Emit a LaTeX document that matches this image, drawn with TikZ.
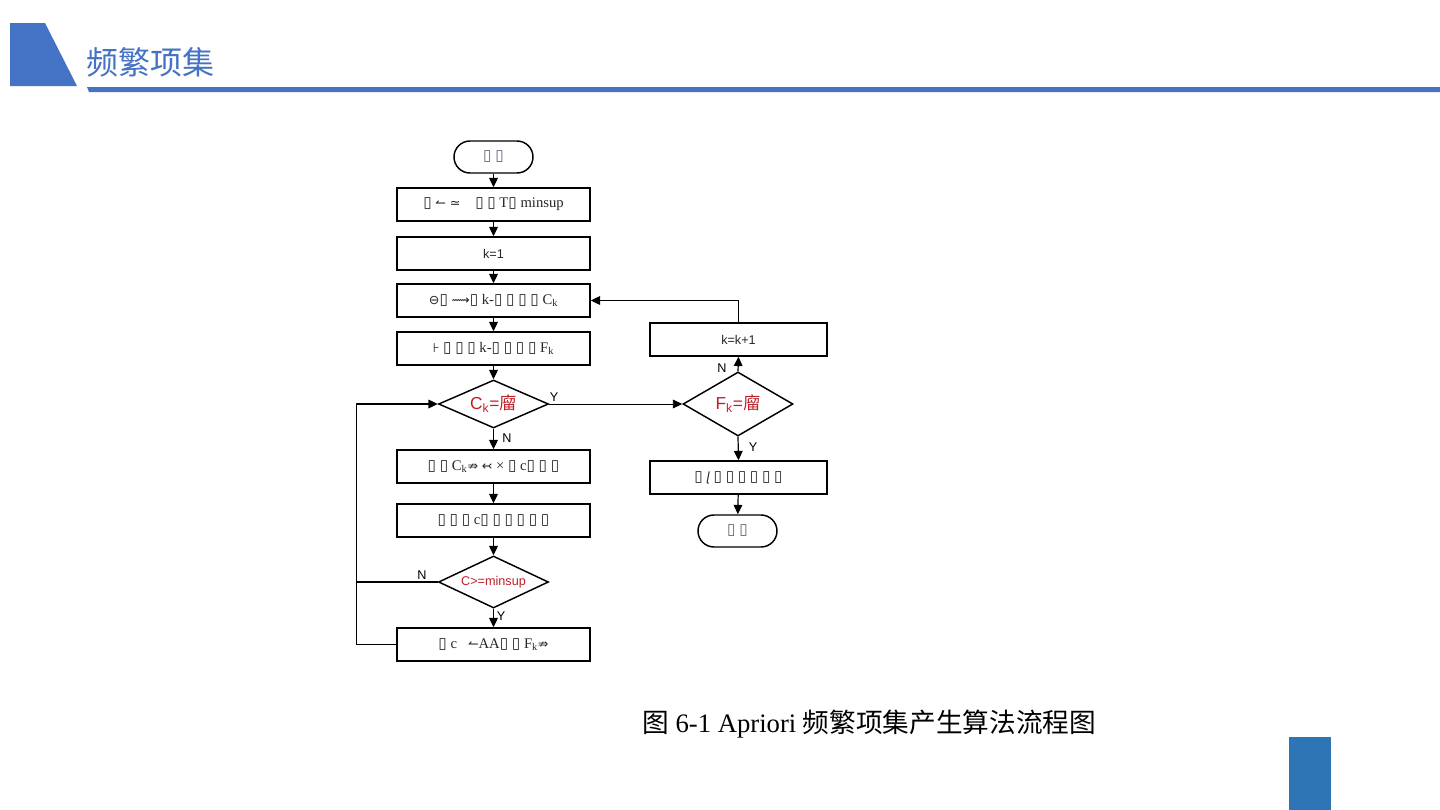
\documentclass[tikz,border=0pt]{standalone}
\usepackage{fontspec}
\setmainfont{Liberation Serif}
\setsansfont{Liberation Sans}
\newfontfamily\cjk{Noto Sans CJK SC}
\newfontfamily\symf{DejaVu Sans}
\usetikzlibrary{shapes.geometric,arrows.meta}
\definecolor{titleblue}{RGB}{68,114,196}
\definecolor{barblue}{RGB}{46,117,182}
\definecolor{redtxt}{RGB}{190,30,40}
\definecolor{startgray}{RGB}{90,100,120}
\newcommand\tf{{\symf\fontsize{11.5}{12}\selectfont ▯}}
\newcommand\sy[1]{{\symf\fontsize{9.5}{11}\selectfont #1}}
\tikzset{
  box/.style={draw, line width=1.1pt, minimum width=144.75pt, minimum height=24.75pt, inner sep=0pt, font=\fontsize{11}{12}\selectfont, text=black!85},
  rbox/.style={box, minimum width=132.75pt},
  term/.style={draw, line width=1.1pt, rounded corners=12pt, minimum width=59.25pt, minimum height=24pt, inner sep=0pt, font=\fontsize{11}{12}\selectfont, text=startgray},
  dia/.style={draw, line width=1.1pt, diamond, inner sep=0pt, minimum width=82.5pt, text=redtxt},
  arr/.style={line width=0.9pt, -{Triangle[length=7pt,width=6.5pt]}},
  lin/.style={line width=0.9pt},
  lab/.style={font=\sffamily\fontsize{9.5}{11}\selectfont, inner sep=0pt}
}
\begin{document}
\begin{tikzpicture}[x=0.75pt,y=-0.75pt]
\useasboundingbox (0,0) rectangle (1440,810);
% header
\fill[titleblue] (10,23) -- (45,23) -- (77,86) -- (10,86) -- cycle;
\fill[titleblue] (87,87) -- (1440,87) -- (1440,92) -- (89,92) -- cycle;
\node[anchor=west, inner sep=0pt, text=titleblue, font=\cjk\fontsize{24}{26}\selectfont] (title) at (86,62) {频繁项集};
\fill[barblue] (1289,737) rectangle (1331,810);
% caption
\node[anchor=west, inner sep=0pt, font=\fontsize{20}{22}\selectfont] (cap) at (642,724) {{\cjk 图} 6-1 Apriori {\cjk 频繁项集产生算法流程图}};

% flowchart nodes
\node[term] (start) at (493.5,157) {\tf\ \tf};
\node[box] (b1) at (493.5,204.5) {\tf\ \sy{↼ ≃}\ \ \ \ \tf\ \tf\ T\tf\ minsup};
\node[box, font=\sffamily\fontsize{9.5}{11}\selectfont] (b2) at (493.5,253.5) {k=1};
\node[box] (b3) at (493.5,300.5) {\sy{⊖}\tf\ \sy{⟿}\tf\ k-\tf\ \tf\ \tf\ \tf\ C\textsubscript{k}};
\node[box] (b4) at (493.5,348.5) {\sy{⊦}\ \tf\ \tf\ \tf\ k-\tf\ \tf\ \tf\ \tf\ F\textsubscript{k}};
\node[dia, aspect=2.29, minimum height=36pt, font=\sffamily\fontsize{13}{15}\selectfont] (d1) at (493.5,404) {C\textsubscript{k}={\cjk 廇}};
\node[box] (b5) at (493.5,466.5) {\tf\ \tf\ C\textsubscript{k}\sy{⇏}\ \sy{↢}\ ×\ \tf\ c\tf\ \tf\ \tf};
\node[box] (b6) at (493.5,520.5) {\tf\ \tf\ \tf\ c\tf\ \tf\ \tf\ \tf\ \tf\ \tf};
\node[dia, aspect=2.1, minimum height=39pt, font=\sffamily\fontsize{9.5}{11}\selectfont] (d2) at (493.5,582) {C>=minsup};
\node[box] (b7) at (493.5,644.5) {\tf\ c\ \ \ \sy{↼}AA\tf\ \tf\ F\textsubscript{k}\sy{⇏}};

\node[rbox, font=\sffamily\fontsize{9.5}{11}\selectfont] (k1) at (738.5,339.5) {k=k+1};
\node[dia, aspect=1.72, minimum height=48pt, font=\sffamily\fontsize{13}{15}\selectfont] (d3) at (738,404) {F\textsubscript{k}={\cjk 廇}};
\node[rbox] (out) at (738.5,477.5) {\tf\ \textit{\sy{ɭ}}\ \tf\ \tf\ \tf\ \tf\ \tf\ \tf};
\node[term] (end) at (737.5,531) {\tf\ \tf};

% connectors
\draw[arr] (start) -- (b1);
\draw[arr] (b1) -- (b2);
\draw[arr] (b2) -- (b3);
\draw[arr] (b3) -- (b4);
\draw[arr] (b4) -- (d1);
\draw[arr] (d1) -- (b5);
\draw[arr] (b5) -- (b6);
\draw[arr] (b6) -- (d2);
\draw[arr] (d2) -- (b7);
\draw[arr, line width=0.6pt] (d1.east) -- (d3.west);
\draw[arr] (d3.north) -- (k1.south);
\draw[arr] (k1.north) |- (b3.east);
\draw[arr] (d3.south) -- (out.north);
\draw[arr] (out) -- (end);
\coordinate (lx) at (357,582);
\draw[lin] (d2.west) -- (lx);
\draw[arr] (b7.west) -- ++(-40,0) |- (d1.west);

% labels
\node[lab] (yl1) at (554,397) {Y};
\node[lab] (nl1) at (507,438) {N};
\node[lab] (nl2) at (422,575) {N};
\node[lab] (yl2) at (501,616) {Y};
\node[lab] (nl3) at (722,368) {N};
\node[lab] (yl3) at (753,447) {Y};
\end{tikzpicture}
\end{document}
